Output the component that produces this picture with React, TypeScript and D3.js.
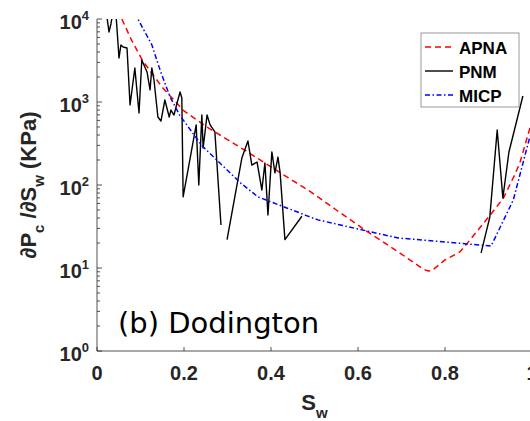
import * as d3 from 'd3';
import { useRef, useEffect } from 'react';

// APNA model curve
const apnaSw = [0.05, 0.057, 0.08, 0.104, 0.15, 0.2, 0.25, 0.3, 0.35, 0.4, 0.45, 0.485, 0.5, 0.55, 0.6, 0.623, 0.65, 0.7, 0.75, 0.761, 0.77, 0.8, 0.834, 0.85, 0.9, 0.934, 0.96, 0.972, 0.995, 1.0];
const apnaVal = [13000, 10000, 5500, 3200, 1500, 780, 510, 352, 243, 165, 113, 87, 77, 50, 33, 27, 22, 14.7, 9.7, 9.2, 9.3, 12.5, 15.6, 19.5, 41, 69, 132, 184, 480, 560];

// PNM (pore network), null = break in the line
const pnmSw = [0.0207, 0.0276, 0.032, 0.0414, 0.0506, 0.055, 0.06, 0.069, 0.076, 0.087, 0.0966, 0.103, 0.115, 0.122, 0.126, 0.131, 0.14, 0.147, 0.156, 0.166, 0.17, 0.177, 0.184, 0.191, 0.195, 0.198, 0.228, 0.234, 0.241, 0.244, 0.253, 0.26, 0.271, 0.285, 0.29, 0.299, 0.333, 0.347, 0.356, 0.368, 0.379, 0.386, 0.393, 0.402, 0.409, 0.416, 0.421, 0.432, 0.471, 0.6, 0.883, 0.903, 0.92, 0.933, 0.947, 0.979];
const pnmVal: (number | null)[] = [12800, 6970, 8710, 16900, 3390, 4860, 4600, 4470, 920, 2570, 737, 3200, 2300, 1400, 2570, 1840, 660, 590, 1057, 660, 800, 697, 973, 1320, 1117, 72, 530, 100, 697, 279, 697, 530, 436, 33, null, 22, 211, 339, 174, 189, 87, 184, 43.5, 251, 140, 217, 140, 22, 42, null, 15.2, 41, 460, 70, 250, 1180];

// MICP measurement
const micpSw = [0.09, 0.094, 0.126, 0.145, 0.168, 0.19, 0.235, 0.244, 0.33, 0.37, 0.42, 0.467, 0.48, 0.508, 0.6, 0.692, 0.8, 0.85, 0.906, 0.957, 0.995, 1.0];
const micpVal = [12000, 10000, 4900, 2430, 1150, 695, 330, 288, 106, 72, 57, 46, 43, 38, 29.5, 23, 20.6, 19.5, 18.4, 66, 380, 420];

const xTicks = [0, 0.2, 0.4, 0.6, 0.8, 1];
const xTickLabels = ['0', '0.2', '0.4', '0.6', '0.8', '1'];
const yExponents = [0, 1, 2, 3, 4];

const legendNames = ['APNA', 'PNM', 'MICP'];
const legendColors = ['#ff0000', '#000000', '#0000ff'];
const legendDash = ['6,4', null, '5,2.5,1.5,2.5'];

export default function App() {
  const ref = useRef<SVGSVGElement>(null);
  const width = 530;
  const height = 421;
  const left = 97;
  const right = 532;
  const top = 19;
  const bottom = 351;
  const axisColor = '#262626';

  useEffect(() => {
    const svg = d3.select(ref.current);
    svg.selectAll('*').remove();

    const x = d3.scaleLinear().domain([0, 1]).range([left, right]);
    const y = d3.scaleLog().domain([1, 1e4]).range([bottom, top]);

    svg
      .append('defs')
      .append('clipPath')
      .attr('id', 'plotClip')
      .append('rect')
      .attr('x', left)
      .attr('y', top)
      .attr('width', right - left)
      .attr('height', bottom - top);

    // axes lines
    svg.append('line').attr('x1', left).attr('x2', left).attr('y1', top).attr('y2', bottom)
      .attr('stroke', axisColor).attr('stroke-width', 0.8);
    svg.append('line').attr('x1', left).attr('x2', right).attr('y1', bottom).attr('y2', bottom)
      .attr('stroke', axisColor).attr('stroke-width', 0.8);

    // x ticks (inward)
    xTicks.forEach((t, i) => {
      svg.append('line').attr('x1', x(t)).attr('x2', x(t)).attr('y1', bottom).attr('y2', bottom - 4)
        .attr('stroke', axisColor).attr('stroke-width', 0.8);
      svg.append('text')
        .attr('x', x(t)).attr('y', 380)
        .attr('text-anchor', 'middle')
        .attr('font-family', 'Liberation Sans, Arial, sans-serif')
        .attr('font-weight', 'bold')
        .attr('font-size', 20)
        .attr('fill', axisColor)
        .text(xTickLabels[i]);
    });

    // y ticks: majors and minors (log)
    yExponents.forEach((e) => {
      const v = Math.pow(10, e);
      svg.append('line').attr('x1', left).attr('x2', left + 5).attr('y1', y(v)).attr('y2', y(v))
        .attr('stroke', axisColor).attr('stroke-width', 0.8);
      if (e < 4) {
        for (let m = 2; m <= 9; m++) {
          svg.append('line').attr('x1', left).attr('x2', left + 3)
            .attr('y1', y(m * v)).attr('y2', y(m * v))
            .attr('stroke', axisColor).attr('stroke-width', 0.8);
        }
      }
      const lbl = svg.append('text')
        .attr('x', 89).attr('y', y(v) + 10)
        .attr('text-anchor', 'end')
        .attr('font-family', 'Liberation Sans, Arial, sans-serif')
        .attr('font-weight', 'bold')
        .attr('font-size', 20)
        .attr('fill', axisColor);
      lbl.append('tspan').text('10');
      lbl.append('tspan').attr('dy', -9).attr('font-size', 13).text(String(e));
    });

    // y label
    const yl = svg.append('text')
      .attr('transform', 'translate(36,' + (top + bottom) / 2 + ') rotate(-90)')
      .attr('text-anchor', 'middle')
      .attr('font-family', 'Liberation Sans, Arial, sans-serif')
      .attr('font-weight', 'bold')
      .attr('font-size', 22)
      .attr('fill', axisColor);
    yl.append('tspan').text('∂P');
    yl.append('tspan').attr('dy', 8).attr('font-size', 15).text('c');
    yl.append('tspan').attr('dy', -8).text(' /∂S');
    yl.append('tspan').attr('dy', 8).attr('font-size', 15).text('w');
    yl.append('tspan').attr('dy', -8).text(' (KPa)');

    // x label
    const xl = svg.append('text')
      .attr('x', (left + right) / 2).attr('y', 410)
      .attr('text-anchor', 'middle')
      .attr('font-family', 'Liberation Sans, Arial, sans-serif')
      .attr('font-weight', 'bold')
      .attr('font-size', 22)
      .attr('fill', axisColor);
    xl.append('tspan').text('S');
    xl.append('tspan').attr('dy', 8).attr('font-size', 15).text('w');

    // curves
    const plot = svg.append('g').attr('clip-path', 'url(#plotClip)');
    const line = d3.line<[number, number | null]>()
      .defined((d) => d[1] !== null)
      .x((d) => x(d[0]))
      .y((d) => y(d[1] as number));

    plot.append('path')
      .attr('d', line(d3.zip(apnaSw, apnaVal) as [number, number][]))
      .attr('fill', 'none').attr('stroke', legendColors[0]).attr('stroke-width', 1.5)
      .attr('stroke-dasharray', legendDash[0]);
    plot.append('path')
      .attr('d', line(pnmSw.map((s, i) => [s, pnmVal[i]] as [number, number | null])))
      .attr('fill', 'none').attr('stroke', legendColors[1]).attr('stroke-width', 1.4)
      .attr('stroke-linejoin', 'round');
    plot.append('path')
      .attr('d', line(d3.zip(micpSw, micpVal) as [number, number][]))
      .attr('fill', 'none').attr('stroke', legendColors[2]).attr('stroke-width', 1.5)
      .attr('stroke-dasharray', legendDash[2]);

    // panel annotation
    svg.append('text')
      .attr('x', 118).attr('y', 333)
      .attr('font-family', 'DejaVu Sans, sans-serif')
      .attr('font-size', 29)
      .attr('fill', '#000')
      .text('(b) Dodington');

    // legend
    const lg = svg.append('g');
    lg.append('rect')
      .attr('x', 421).attr('y', 33).attr('width', 98).attr('height', 74)
      .attr('fill', '#fff').attr('stroke', '#7f7f7f').attr('stroke-width', 0.8);
    legendNames.forEach((n, i) => {
      const by = 54 + i * 24;
      const ln = lg.append('line')
        .attr('x1', 425).attr('x2', 453).attr('y1', by - 7).attr('y2', by - 7)
        .attr('stroke', legendColors[i]).attr('stroke-width', 1.4);
      if (legendDash[i]) ln.attr('stroke-dasharray', legendDash[i] as string);
      lg.append('text')
        .attr('x', 459).attr('y', by)
        .attr('font-family', 'Liberation Sans, Arial, sans-serif')
        .attr('font-weight', 'bold')
        .attr('font-size', 17)
        .attr('fill', '#000')
        .text(n);
    });
  });

  return (
    <svg
      ref={ref}
      width={width}
      height={height}
      style={{ position: 'absolute', left: 0, top: 0, background: '#fff' }}
    />
  );
}
